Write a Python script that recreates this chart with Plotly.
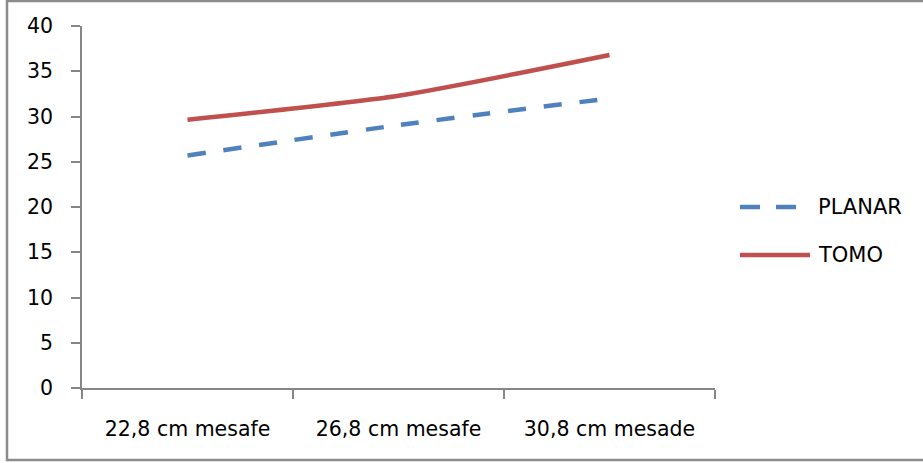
import plotly.graph_objects as go

# Distances and measured values
categories = ["22,8 cm mesafe", "26,8 cm mesafe", "30,8 cm mesade"]
planar = [25.7, 29.05, 32.0]
tomo = [29.65, 32.3, 36.8]
y_ticks = [0, 5, 10, 15, 20, 25, 30, 35, 40]

BLUE = "#4F81BD"
RED = "#C0504D"
AXIS = "#868686"
FONT = "DejaVu Sans"

fig = go.Figure()
fig.add_trace(go.Scatter(
    x=categories, y=planar, name="PLANAR", mode="lines",
    line=dict(color=BLUE, width=4.5, dash="18px,18px", shape="spline", smoothing=0.6),
    showlegend=False,
))
fig.add_trace(go.Scatter(
    x=categories, y=tomo, name="TOMO", mode="lines",
    line=dict(color=RED, width=4.5, shape="spline", smoothing=0.6),
    showlegend=False,
))

# Legend drawn as line samples with labels to the right of the plot
legend_items = [("PLANAR", BLUE, "20px,16px", 207), ("TOMO", RED, "solid", 255)]
W, H = 923, 463
for label, color, dash, ypix in legend_items:
    yp = 1 - ypix / H
    fig.add_shape(type="line", xref="paper", yref="paper",
                  x0=(740 - 82) / (715 - 82), x1=(810 - 82) / (715 - 82),
                  y0=(yp * H - 75) / (H - 26 - 75), y1=(yp * H - 75) / (H - 26 - 75),
                  line=dict(color=color, width=4.5, dash=dash))
    fig.add_annotation(xref="paper", yref="paper",
                       x=(816 - 82) / (715 - 82), y=(yp * H - 75) / (H - 26 - 75),
                       text=label, showarrow=False, xanchor="left", yanchor="middle",
                       font=dict(family=FONT, size=21, color="#000000"))

# Chart border
fig.add_shape(type="rect", xref="paper", yref="paper",
              x0=(7 - 82) / (715 - 82), x1=(940 - 82) / (715 - 82),
              y0=(H - 460 - 75) / (H - 26 - 75), y1=(H - 1 - 75) / (H - 26 - 75),
              line=dict(color="#8C8C8C", width=2.5))

fig.update_layout(
    width=W, height=H,
    margin=dict(l=82, r=208, t=26, b=75),
    paper_bgcolor="white", plot_bgcolor="white",
    font=dict(family=FONT, size=20.5, color="#000000"),
    xaxis=dict(
        type="category", range=[-0.5, 2.5], tickson="boundaries",
        showline=True, linecolor=AXIS, linewidth=1.5,
        ticks="outside", ticklen=9, tickcolor=AXIS, tickwidth=1.5,
        showgrid=False, zeroline=False, ticklabelstandoff=22,
        tickfont=dict(family=FONT, size=20.5, color="#000000"),
    ),
    yaxis=dict(
        range=[0, 40], tickvals=y_ticks,
        showline=True, linecolor=AXIS, linewidth=1.5,
        ticks="outside", ticklen=9, tickcolor=AXIS, tickwidth=1.5,
        showgrid=False, zeroline=False, ticklabelstandoff=14,
        tickfont=dict(family=FONT, size=20.5, color="#000000"),
    ),
)

fig.write_html("out.html")
